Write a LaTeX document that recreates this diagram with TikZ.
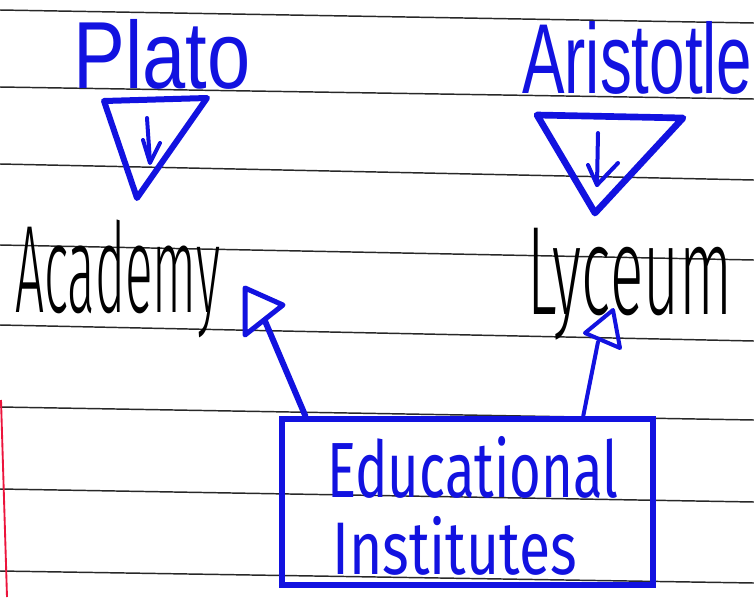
\documentclass[tikz,border=0pt]{standalone}
\usepackage{fontspec}
\setmainfont{Liberation Sans}
\newfontfamily\thinfont{Fira Sans}[UprightFont=* Light]
\newfontfamily\midfont{Fira Sans}
\usepackage{graphicx}
\usetikzlibrary{calc}
\definecolor{ink}{RGB}{18,18,224}
\definecolor{rulegray}{RGB}{40,40,40}
\definecolor{marginred}{RGB}{236,20,60}
\newcommand{\hwtext}[3]{\resizebox*{#1}{#2}{\fontsize{40}{48}\selectfont #3}}
\begin{document}
\begin{tikzpicture}[x=0.75pt,y=-0.75pt,
  ruled/.style={draw=rulegray,line width=1.1pt},
  bluestroke/.style={draw=ink,line width=4.5pt,line join=round,line cap=round},
  thinstroke/.style={draw=ink,line width=3pt,line join=round,line cap=round},
  word/.style={inner sep=0pt,anchor=south west}]
\useasboundingbox (0,0) rectangle (754,597);
\fill[white] (0,0) rectangle (754,597);
% ruled paper
\draw[ruled] (0,10) -- (754,23);
\draw[ruled] (0,87) -- (754,99);
\draw[ruled] (0,164) -- (754,180);
\draw[ruled] (0,245) -- (754,260);
\draw[ruled] (0,325) -- (754,341);
\draw[ruled] (0,407) -- (754,420);
\draw[ruled] (0,489) -- (754,502);
\draw[ruled] (0,571) -- (754,583);
\draw[draw=marginred,line width=1.4pt] (1,400) -- (7,597);
% words
\node[word,text=ink] (plato) at (73,90) {\hwtext{132.75pt}{52.5pt}{Plato}};
\node[word,text=ink] (aristotle) at (522,95) {\hwtext{172.5pt}{54.75pt}{Aristotle}};
\node[word] (academy) at (15,338) {\hwtext{153.75pt}{88.5pt}{\thinfont Academy}};
\node[word] (lyceum) at (527,340) {\hwtext{153.75pt}{84pt}{\thinfont Lyceum}};
% box
\node[draw=ink,line width=4.5pt,minimum width=278.25pt,minimum height=124.5pt,inner sep=0pt] (edu) at (467.5,502) {};
\node[word,text=ink] (educational) at (327,499) {\hwtext{218.25pt}{46.5pt}{\midfont Educational}};
\node[word,text=ink] (institutes) at (332,576) {\hwtext{183.75pt}{44.25pt}{\midfont Institutes}};
% Plato triangle
\draw[bluestroke] (104,101) -- (207,98) -- (137,198) -- cycle;
\draw[thinstroke] (147,118) -- (150,162);
\draw[thinstroke] (143,140) -- (150,163) -- (160,143);
% Aristotle triangle
\draw[bluestroke,line width=5pt] (537,115) -- (683,118) -- (595,213) -- cycle;
\draw[thinstroke] (598,133) -- (597,185);
\draw[thinstroke] (588,165) -- (597,185) -- (618,163);
% connectors
\coordinate (startL) at ($(edu.north west)!0.07!(edu.north east)$);
\coordinate (headL) at (265,321);
\draw[bluestroke] (startL) -- (headL);
\draw[bluestroke,line width=3.75pt] (245,288) -- (283,305) -- (245,335) -- cycle;
\coordinate (startR) at ($(edu.north west)!0.807!(edu.north east)$);
\coordinate (headR) at (598,342);
\draw[thinstroke] (startR) -- (headR);
\draw[thinstroke] (613,310) -- (585,333) -- (620,348) -- cycle;
\end{tikzpicture}
\end{document}
